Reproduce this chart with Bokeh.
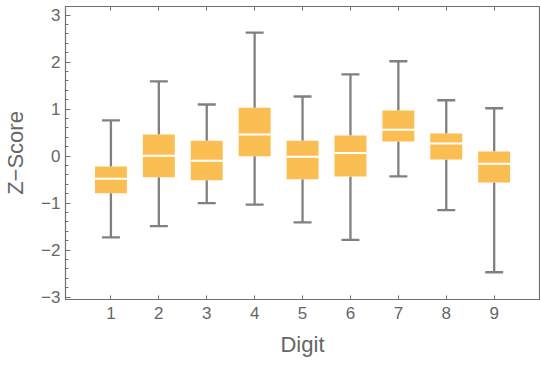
from bokeh.plotting import figure
from bokeh.models import Range1d, FixedTicker, LinearAxis, CustomLabelingPolicy
from bokeh.embed import file_html
from bokeh.resources import INLINE

# Data
digits = [1, 2, 3, 4, 5, 6, 7, 8, 9]
lower = [-1.73, -1.49, -1.00, -1.03, -1.41, -1.78, -0.43, -1.15, -2.47]
q1 = [-0.79, -0.45, -0.51, 0.00, -0.49, -0.43, 0.31, -0.07, -0.56]
median = [-0.48, 0.01, -0.10, 0.46, -0.01, 0.07, 0.56, 0.27, -0.16]
q3 = [-0.22, 0.46, 0.33, 1.03, 0.33, 0.44, 0.97, 0.48, 0.10]
upper = [0.76, 1.59, 1.10, 2.63, 1.27, 1.74, 2.02, 1.19, 1.02]

y_ticks = [-3, -2, -1, 0, 1, 2, 3]
y_tick_labels = ["\u22123", "\u22122", "\u22121", "0", "1", "2", "3"]
x_tick_labels = ["1", "2", "3", "4", "5", "6", "7", "8", "9"]

FONT = "Liberation Sans"
AX = "#6f6f6f"
TXT = "#666666"
BOX = "#FBBE52"
WHISK = "#808080"

p = figure(width=540, height=365, output_backend="svg", toolbar_location=None,
           x_range=Range1d(0.052, 9.946), y_range=Range1d(-3.05, 3.185),
           min_border_left=64, min_border_right=1, min_border_top=6,
           min_border_bottom=66)
p.grid.visible = False
p.outline_line_color = AX
p.outline_line_width = 1.2
p.background_fill_color = "white"
p.border_fill_color = "white"

# whiskers
p.segment(x0=digits, y0=q3, x1=digits, y1=upper, line_color=WHISK, line_width=2.3)
p.segment(x0=digits, y0=q1, x1=digits, y1=lower, line_color=WHISK, line_width=2.3)
p.scatter(x=digits, y=upper, marker="dash", size=18, line_color=WHISK, line_width=2.3)
p.scatter(x=digits, y=lower, marker="dash", size=18, line_color=WHISK, line_width=2.3)

# boxes
p.vbar(x=digits, width=0.667, top=q3, bottom=q1, fill_color=BOX, line_color=None)
p.scatter(x=digits, y=median, marker="dash", size=32, line_color="white", line_width=2)

# axes styling
xa = p.xaxis[0]
xa.ticker = FixedTicker(ticks=digits)
xa.major_label_overrides = {d: s for d, s in zip(digits, x_tick_labels)}
xa.axis_label = "Digit"
xa.major_tick_in = 4
xa.major_tick_out = 0
xa.minor_tick_in = 0
xa.minor_tick_out = 0
xa.major_label_standoff = 7
xa.axis_label_standoff = 10

ya = p.yaxis[0]
ya.ticker = FixedTicker(ticks=y_ticks, minor_ticks=[i / 5 for i in range(-15, 16)])
ya.major_label_overrides = {t: s for t, s in zip(y_ticks, y_tick_labels)}
ya.axis_label = "Z\u2212Score"
ya.major_tick_in = 5
ya.major_tick_out = 0
ya.minor_tick_in = 3
ya.minor_tick_out = 0
ya.major_label_standoff = 5
ya.axis_label_standoff = 10

for ax in (xa, ya):
    ax.axis_line_color = AX
    ax.major_tick_line_color = AX
    ax.minor_tick_line_color = AX
    ax.major_label_text_font = FONT
    ax.major_label_text_font_size = "17px"
    ax.major_label_text_color = TXT
    ax.major_label_text_line_height = 1.0
    ax.axis_label_text_font = FONT
    ax.axis_label_text_font_size = "22px"
    ax.axis_label_text_font_style = "normal"
    ax.axis_label_text_color = TXT
    ax.axis_label_text_line_height = 1.0

hide_all = CustomLabelingPolicy(code="""
    for (const i of indices) indices.unset(i)
    return indices
""")
top = LinearAxis(ticker=FixedTicker(ticks=digits), major_label_text_font_size="0px",
                 major_label_policy=hide_all,
                 major_tick_in=4, major_tick_out=0, minor_tick_in=0, minor_tick_out=0,
                 axis_line_color=AX, major_tick_line_color=AX, major_label_standoff=0)
p.add_layout(top, "above")

open("out.html", "w").write(file_html(p, INLINE))
